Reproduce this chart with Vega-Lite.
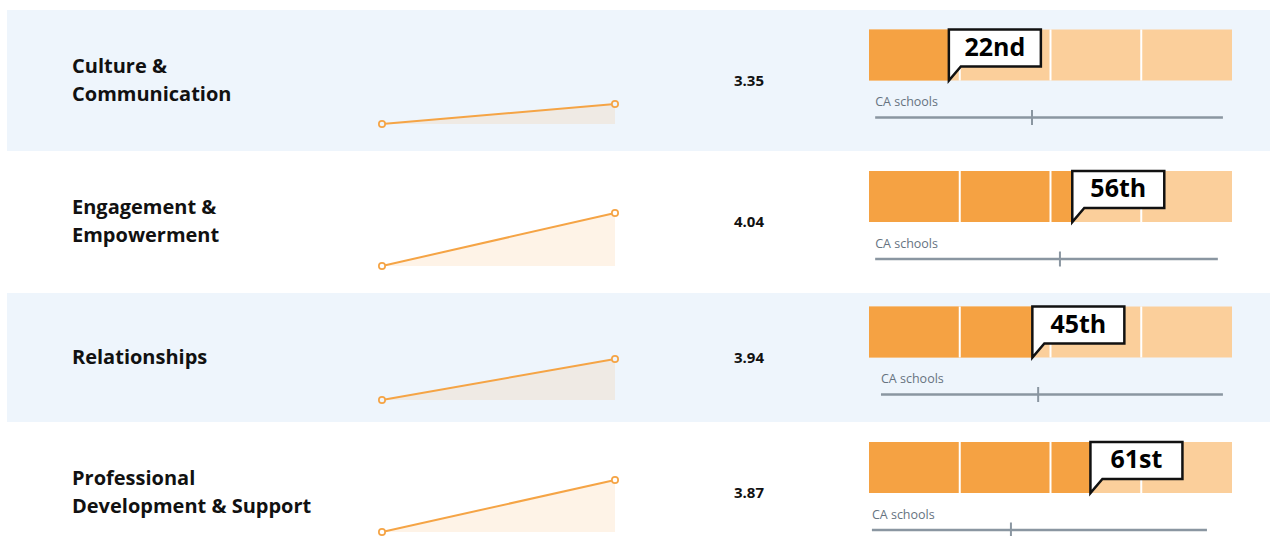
{
  "$schema": "https://vega.github.io/schema/vega-lite/v6.json",
  "padding": {"left": 7, "top": 10, "right": 0, "bottom": 0},
  "background": "#FFFFFF",
  "spacing": 0,
  "config": {"view": {"stroke": null}, "font": "Open Sans"},
  "datasets": {
    "metrics": [
      {"metric": "Culture & Communication", "label": "Culture &\nCommunication", "score": 3.35, "pct": 22, "rank": "22nd", "ca_lo": 1.7, "ca_med": 44.9, "ca_hi": 97.5},
      {"metric": "Engagement & Empowerment", "label": "Engagement &\nEmpowerment", "score": 4.04, "pct": 56, "rank": "56th", "ca_lo": 1.7, "ca_med": 52.6, "ca_hi": 96.1},
      {"metric": "Relationships", "label": "Relationships", "score": 3.94, "pct": 45, "rank": "45th", "ca_lo": 3.3, "ca_med": 46.6, "ca_hi": 97.5},
      {"metric": "Professional Development & Support", "label": "Professional\nDevelopment & Support", "score": 3.87, "pct": 61, "rank": "61st", "ca_lo": 0.8, "ca_med": 39.1, "ca_hi": 93.1}
    ],
    "trend": [
      {"metric": "Culture & Communication", "period": 1, "score": 3.15},
      {"metric": "Culture & Communication", "period": 2, "score": 3.35},
      {"metric": "Engagement & Empowerment", "period": 1, "score": 3.51},
      {"metric": "Engagement & Empowerment", "period": 2, "score": 4.04},
      {"metric": "Relationships", "period": 1, "score": 3.53},
      {"metric": "Relationships", "period": 2, "score": 3.94},
      {"metric": "Professional Development & Support", "period": 1, "score": 3.35},
      {"metric": "Professional Development & Support", "period": 2, "score": 3.87}
    ],
    "quartiles": [
      {"q_start": 0, "q_end": 25},
      {"q_start": 25, "q_end": 50},
      {"q_start": 50, "q_end": 75},
      {"q_start": 75, "q_end": 100}
    ]
  },
  "vconcat": [
    {
      "data": {"name": "metrics"},
      "transform": [{"filter": "datum.metric === 'Culture & Communication'"}],
      "spacing": 0,
      "bounds": "flush",
      "hconcat": [
        {"width": 65, "height": 141, "view": {"fill": "#EEF5FC"}, "mark": {"type": "text"}, "encoding": {}},
        {"width": 288, "height": 141, "view": {"fill": "#EEF5FC"},
         "mark": {"type": "text", "align": "left", "baseline": "middle", "dy": -14, "font": "Open Sans", "fontWeight": "bold", "fontSize": 20, "lineHeight": 28, "lineBreak": "\n", "color": "#111111"},
         "encoding": {"x": {"field": "metric", "type": "nominal", "scale": {"type": "point", "padding": 0, "align": 0}, "axis": null}, "text": {"field": "label"}}},
        {"width": 277, "height": 141, "view": {"fill": "#EEF5FC"},
         "data": {"name": "trend"},
         "transform": [{"filter": "datum.metric === 'Culture & Communication'"}, {"joinaggregate": [{"op": "min", "field": "score", "as": "base"}]}],
         "encoding": {
           "x": {"field": "period", "type": "quantitative", "scale": {"domain": [1, 2], "padding": 22, "nice": false, "zero": false}, "axis": null},
           "y": {"field": "score", "type": "quantitative", "scale": {"domain": [2.88, 4.29], "nice": false, "zero": false}, "axis": null}
         },
         "layer": [
           {"mark": {"type": "area", "color": "#F5A243", "opacity": 0.13}, "encoding": {"y2": {"field": "base"}}},
           {"mark": {"type": "line", "color": "#F5A445", "strokeWidth": 2}, "encoding": {}},
           {"mark": {"type": "point", "filled": true, "fill": "#EEF5FC", "stroke": "#F5A445", "strokeWidth": 1.7, "size": 40, "opacity": 1}, "encoding": {}}
         ]},
        {"width": 224, "height": 141, "view": {"fill": "#EEF5FC"},
         "mark": {"type": "text", "font": "Open Sans", "fontWeight": "bold", "fontSize": 15, "color": "#111111", "baseline": "middle"},
         "encoding": {"text": {"field": "score", "type": "quantitative", "format": ".2f"}}},
        {"width": 379, "height": 141, "view": {"fill": "#EEF5FC"},
         "layer": [
           {"data": {"name": "quartiles"}, "mark": {"type": "bar", "color": "#FBCF9B", "size": 51, "yOffset": -25.5},
            "encoding": {"x": {"field": "q_start", "type": "quantitative", "scale": {"domain": [0, 100], "padding": 8, "nice": false, "zero": false}, "axis": null}, "x2": {"field": "q_end"}}},
           {"mark": {"type": "bar", "color": "#F5A243", "size": 51, "yOffset": -25.5},
            "encoding": {"x": {"field": "pct", "type": "quantitative", "scale": {"domain": [0, 100], "padding": 8, "nice": false, "zero": false}, "axis": null}}},
           {"data": {"name": "quartiles"}, "transform": [{"filter": "datum.q_start > 0"}],
            "mark": {"type": "tick", "color": "#FFFFFF", "thickness": 2, "size": 51, "yOffset": -25.5, "opacity": 1},
            "encoding": {"x": {"field": "q_start", "type": "quantitative", "scale": {"domain": [0, 100], "padding": 8, "nice": false, "zero": false}, "axis": null}}},
           {"mark": {"type": "point", "shape": "M0,0L0,-5.1L9.2,-5.1L9.2,-1.4L1.2,-1.4Z", "size": 400, "filled": true, "fill": "#FFFFFF", "stroke": "#111111", "strokeWidth": 2.5, "opacity": 1},
            "encoding": {"x": {"field": "pct", "type": "quantitative", "scale": {"domain": [0, 100], "padding": 8, "nice": false, "zero": false}, "axis": null}}},
           {"mark": {"type": "text", "dx": 46, "dy": -33, "align": "center", "baseline": "middle", "font": "Open Sans", "fontWeight": "bold", "fontSize": 25, "color": "#000000"},
            "encoding": {"x": {"field": "pct", "type": "quantitative", "scale": {"domain": [0, 100], "padding": 8, "nice": false, "zero": false}, "axis": null}, "text": {"field": "rank"}}},
           {"mark": {"type": "rule", "color": "#8A96A1", "strokeWidth": 2.5, "yOffset": 37},
            "encoding": {"x": {"field": "ca_lo", "type": "quantitative", "scale": {"domain": [0, 100], "padding": 8, "nice": false, "zero": false}, "axis": null}, "x2": {"field": "ca_hi"}}},
           {"mark": {"type": "tick", "color": "#8A96A1", "thickness": 2, "size": 15, "yOffset": 37, "opacity": 1},
            "encoding": {"x": {"field": "ca_med", "type": "quantitative", "scale": {"domain": [0, 100], "padding": 8, "nice": false, "zero": false}, "axis": null}}},
           {"mark": {"type": "text", "align": "left", "baseline": "alphabetic", "dy": 25.5, "font": "Open Sans", "fontSize": 12.5, "color": "#66737F"},
            "encoding": {"x": {"field": "ca_lo", "type": "quantitative", "scale": {"domain": [0, 100], "padding": 8, "nice": false, "zero": false}, "axis": null}, "text": {"value": "CA schools"}}}
         ]},
        {"width": 30, "height": 141, "view": {"fill": "#EEF5FC"}, "mark": {"type": "text"}, "encoding": {}}
      ]
    },
    {
      "data": {"name": "metrics"},
      "transform": [{"filter": "datum.metric === 'Engagement & Empowerment'"}],
      "spacing": 0,
      "bounds": "flush",
      "hconcat": [
        {"width": 65, "height": 142, "mark": {"type": "text"}, "encoding": {}},
        {"width": 288, "height": 142,
         "mark": {"type": "text", "align": "left", "baseline": "middle", "dy": -14, "font": "Open Sans", "fontWeight": "bold", "fontSize": 20, "lineHeight": 28, "lineBreak": "\n", "color": "#111111"},
         "encoding": {"x": {"field": "metric", "type": "nominal", "scale": {"type": "point", "padding": 0, "align": 0}, "axis": null}, "text": {"field": "label"}}},
        {"width": 277, "height": 142,
         "data": {"name": "trend"},
         "transform": [{"filter": "datum.metric === 'Engagement & Empowerment'"}, {"joinaggregate": [{"op": "min", "field": "score", "as": "base"}]}],
         "encoding": {
           "x": {"field": "period", "type": "quantitative", "scale": {"domain": [1, 2], "padding": 22, "nice": false, "zero": false}, "axis": null},
           "y": {"field": "score", "type": "quantitative", "scale": {"domain": [3.24, 4.66], "nice": false, "zero": false}, "axis": null}
         },
         "layer": [
           {"mark": {"type": "area", "color": "#F5A243", "opacity": 0.13}, "encoding": {"y2": {"field": "base"}}},
           {"mark": {"type": "line", "color": "#F5A445", "strokeWidth": 2}, "encoding": {}},
           {"mark": {"type": "point", "filled": true, "fill": "#FFFFFF", "stroke": "#F5A445", "strokeWidth": 1.7, "size": 40, "opacity": 1}, "encoding": {}}
         ]},
        {"width": 224, "height": 142,
         "mark": {"type": "text", "font": "Open Sans", "fontWeight": "bold", "fontSize": 15, "color": "#111111", "baseline": "middle"},
         "encoding": {"text": {"field": "score", "type": "quantitative", "format": ".2f"}}},
        {"width": 379, "height": 142,
         "layer": [
           {"data": {"name": "quartiles"}, "mark": {"type": "bar", "color": "#FBCF9B", "size": 51, "yOffset": -25.5},
            "encoding": {"x": {"field": "q_start", "type": "quantitative", "scale": {"domain": [0, 100], "padding": 8, "nice": false, "zero": false}, "axis": null}, "x2": {"field": "q_end"}}},
           {"mark": {"type": "bar", "color": "#F5A243", "size": 51, "yOffset": -25.5},
            "encoding": {"x": {"field": "pct", "type": "quantitative", "scale": {"domain": [0, 100], "padding": 8, "nice": false, "zero": false}, "axis": null}}},
           {"data": {"name": "quartiles"}, "transform": [{"filter": "datum.q_start > 0"}],
            "mark": {"type": "tick", "color": "#FFFFFF", "thickness": 2, "size": 51, "yOffset": -25.5, "opacity": 1},
            "encoding": {"x": {"field": "q_start", "type": "quantitative", "scale": {"domain": [0, 100], "padding": 8, "nice": false, "zero": false}, "axis": null}}},
           {"mark": {"type": "point", "shape": "M0,0L0,-5.1L9.2,-5.1L9.2,-1.4L1.2,-1.4Z", "size": 400, "filled": true, "fill": "#FFFFFF", "stroke": "#111111", "strokeWidth": 2.5, "opacity": 1},
            "encoding": {"x": {"field": "pct", "type": "quantitative", "scale": {"domain": [0, 100], "padding": 8, "nice": false, "zero": false}, "axis": null}}},
           {"mark": {"type": "text", "dx": 46, "dy": -33, "align": "center", "baseline": "middle", "font": "Open Sans", "fontWeight": "bold", "fontSize": 25, "color": "#000000"},
            "encoding": {"x": {"field": "pct", "type": "quantitative", "scale": {"domain": [0, 100], "padding": 8, "nice": false, "zero": false}, "axis": null}, "text": {"field": "rank"}}},
           {"mark": {"type": "rule", "color": "#8A96A1", "strokeWidth": 2.5, "yOffset": 37},
            "encoding": {"x": {"field": "ca_lo", "type": "quantitative", "scale": {"domain": [0, 100], "padding": 8, "nice": false, "zero": false}, "axis": null}, "x2": {"field": "ca_hi"}}},
           {"mark": {"type": "tick", "color": "#8A96A1", "thickness": 2, "size": 15, "yOffset": 37, "opacity": 1},
            "encoding": {"x": {"field": "ca_med", "type": "quantitative", "scale": {"domain": [0, 100], "padding": 8, "nice": false, "zero": false}, "axis": null}}},
           {"mark": {"type": "text", "align": "left", "baseline": "alphabetic", "dy": 25.5, "font": "Open Sans", "fontSize": 12.5, "color": "#66737F"},
            "encoding": {"x": {"field": "ca_lo", "type": "quantitative", "scale": {"domain": [0, 100], "padding": 8, "nice": false, "zero": false}, "axis": null}, "text": {"value": "CA schools"}}}
         ]},
        {"width": 30, "height": 142, "mark": {"type": "text"}, "encoding": {}}
      ]
    },
    {
      "data": {"name": "metrics"},
      "transform": [{"filter": "datum.metric === 'Relationships'"}],
      "spacing": 0,
      "bounds": "flush",
      "hconcat": [
        {"width": 65, "height": 129, "view": {"fill": "#EEF5FC"}, "mark": {"type": "text"}, "encoding": {}},
        {"width": 288, "height": 129, "view": {"fill": "#EEF5FC"},
         "mark": {"type": "text", "align": "left", "baseline": "middle", "font": "Open Sans", "fontWeight": "bold", "fontSize": 20, "lineHeight": 28, "lineBreak": "\n", "color": "#111111"},
         "encoding": {"x": {"field": "metric", "type": "nominal", "scale": {"type": "point", "padding": 0, "align": 0}, "axis": null}, "text": {"field": "label"}}},
        {"width": 277, "height": 129, "view": {"fill": "#EEF5FC"},
         "data": {"name": "trend"},
         "transform": [{"filter": "datum.metric === 'Relationships'"}, {"joinaggregate": [{"op": "min", "field": "score", "as": "base"}]}],
         "encoding": {
           "x": {"field": "period", "type": "quantitative", "scale": {"domain": [1, 2], "padding": 22, "nice": false, "zero": false}, "axis": null},
           "y": {"field": "score", "type": "quantitative", "scale": {"domain": [3.31, 4.6], "nice": false, "zero": false}, "axis": null}
         },
         "layer": [
           {"mark": {"type": "area", "color": "#F5A243", "opacity": 0.13}, "encoding": {"y2": {"field": "base"}}},
           {"mark": {"type": "line", "color": "#F5A445", "strokeWidth": 2}, "encoding": {}},
           {"mark": {"type": "point", "filled": true, "fill": "#EEF5FC", "stroke": "#F5A445", "strokeWidth": 1.7, "size": 40, "opacity": 1}, "encoding": {}}
         ]},
        {"width": 224, "height": 129, "view": {"fill": "#EEF5FC"},
         "mark": {"type": "text", "font": "Open Sans", "fontWeight": "bold", "fontSize": 15, "color": "#111111", "baseline": "middle"},
         "encoding": {"text": {"field": "score", "type": "quantitative", "format": ".2f"}}},
        {"width": 379, "height": 129, "view": {"fill": "#EEF5FC"},
         "layer": [
           {"data": {"name": "quartiles"}, "mark": {"type": "bar", "color": "#FBCF9B", "size": 51, "yOffset": -25.5},
            "encoding": {"x": {"field": "q_start", "type": "quantitative", "scale": {"domain": [0, 100], "padding": 8, "nice": false, "zero": false}, "axis": null}, "x2": {"field": "q_end"}}},
           {"mark": {"type": "bar", "color": "#F5A243", "size": 51, "yOffset": -25.5},
            "encoding": {"x": {"field": "pct", "type": "quantitative", "scale": {"domain": [0, 100], "padding": 8, "nice": false, "zero": false}, "axis": null}}},
           {"data": {"name": "quartiles"}, "transform": [{"filter": "datum.q_start > 0"}],
            "mark": {"type": "tick", "color": "#FFFFFF", "thickness": 2, "size": 51, "yOffset": -25.5, "opacity": 1},
            "encoding": {"x": {"field": "q_start", "type": "quantitative", "scale": {"domain": [0, 100], "padding": 8, "nice": false, "zero": false}, "axis": null}}},
           {"mark": {"type": "point", "shape": "M0,0L0,-5.1L9.2,-5.1L9.2,-1.4L1.2,-1.4Z", "size": 400, "filled": true, "fill": "#FFFFFF", "stroke": "#111111", "strokeWidth": 2.5, "opacity": 1},
            "encoding": {"x": {"field": "pct", "type": "quantitative", "scale": {"domain": [0, 100], "padding": 8, "nice": false, "zero": false}, "axis": null}}},
           {"mark": {"type": "text", "dx": 46, "dy": -33, "align": "center", "baseline": "middle", "font": "Open Sans", "fontWeight": "bold", "fontSize": 25, "color": "#000000"},
            "encoding": {"x": {"field": "pct", "type": "quantitative", "scale": {"domain": [0, 100], "padding": 8, "nice": false, "zero": false}, "axis": null}, "text": {"field": "rank"}}},
           {"mark": {"type": "rule", "color": "#8A96A1", "strokeWidth": 2.5, "yOffset": 37},
            "encoding": {"x": {"field": "ca_lo", "type": "quantitative", "scale": {"domain": [0, 100], "padding": 8, "nice": false, "zero": false}, "axis": null}, "x2": {"field": "ca_hi"}}},
           {"mark": {"type": "tick", "color": "#8A96A1", "thickness": 2, "size": 15, "yOffset": 37, "opacity": 1},
            "encoding": {"x": {"field": "ca_med", "type": "quantitative", "scale": {"domain": [0, 100], "padding": 8, "nice": false, "zero": false}, "axis": null}}},
           {"mark": {"type": "text", "align": "left", "baseline": "alphabetic", "dy": 25.5, "font": "Open Sans", "fontSize": 12.5, "color": "#66737F"},
            "encoding": {"x": {"field": "ca_lo", "type": "quantitative", "scale": {"domain": [0, 100], "padding": 8, "nice": false, "zero": false}, "axis": null}, "text": {"value": "CA schools"}}}
         ]},
        {"width": 30, "height": 129, "view": {"fill": "#EEF5FC"}, "mark": {"type": "text"}, "encoding": {}}
      ]
    },
    {
      "data": {"name": "metrics"},
      "transform": [{"filter": "datum.metric === 'Professional Development & Support'"}],
      "spacing": 0,
      "bounds": "flush",
      "hconcat": [
        {"width": 65, "height": 142, "mark": {"type": "text"}, "encoding": {}},
        {"width": 288, "height": 142,
         "mark": {"type": "text", "align": "left", "baseline": "middle", "dy": -14, "font": "Open Sans", "fontWeight": "bold", "fontSize": 20, "lineHeight": 28, "lineBreak": "\n", "color": "#111111"},
         "encoding": {"x": {"field": "metric", "type": "nominal", "scale": {"type": "point", "padding": 0, "align": 0}, "axis": null}, "text": {"field": "label"}}},
        {"width": 277, "height": 142,
         "data": {"name": "trend"},
         "transform": [{"filter": "datum.metric === 'Professional Development & Support'"}, {"joinaggregate": [{"op": "min", "field": "score", "as": "base"}]}],
         "encoding": {
           "x": {"field": "period", "type": "quantitative", "scale": {"domain": [1, 2], "padding": 22, "nice": false, "zero": false}, "axis": null},
           "y": {"field": "score", "type": "quantitative", "scale": {"domain": [3.03, 4.45], "nice": false, "zero": false}, "axis": null}
         },
         "layer": [
           {"mark": {"type": "area", "color": "#F5A243", "opacity": 0.13}, "encoding": {"y2": {"field": "base"}}},
           {"mark": {"type": "line", "color": "#F5A445", "strokeWidth": 2}, "encoding": {}},
           {"mark": {"type": "point", "filled": true, "fill": "#FFFFFF", "stroke": "#F5A445", "strokeWidth": 1.7, "size": 40, "opacity": 1}, "encoding": {}}
         ]},
        {"width": 224, "height": 142,
         "mark": {"type": "text", "font": "Open Sans", "fontWeight": "bold", "fontSize": 15, "color": "#111111", "baseline": "middle"},
         "encoding": {"text": {"field": "score", "type": "quantitative", "format": ".2f"}}},
        {"width": 379, "height": 142,
         "layer": [
           {"data": {"name": "quartiles"}, "mark": {"type": "bar", "color": "#FBCF9B", "size": 51, "yOffset": -25.5},
            "encoding": {"x": {"field": "q_start", "type": "quantitative", "scale": {"domain": [0, 100], "padding": 8, "nice": false, "zero": false}, "axis": null}, "x2": {"field": "q_end"}}},
           {"mark": {"type": "bar", "color": "#F5A243", "size": 51, "yOffset": -25.5},
            "encoding": {"x": {"field": "pct", "type": "quantitative", "scale": {"domain": [0, 100], "padding": 8, "nice": false, "zero": false}, "axis": null}}},
           {"data": {"name": "quartiles"}, "transform": [{"filter": "datum.q_start > 0"}],
            "mark": {"type": "tick", "color": "#FFFFFF", "thickness": 2, "size": 51, "yOffset": -25.5, "opacity": 1},
            "encoding": {"x": {"field": "q_start", "type": "quantitative", "scale": {"domain": [0, 100], "padding": 8, "nice": false, "zero": false}, "axis": null}}},
           {"mark": {"type": "point", "shape": "M0,0L0,-5.1L9.2,-5.1L9.2,-1.4L1.2,-1.4Z", "size": 400, "filled": true, "fill": "#FFFFFF", "stroke": "#111111", "strokeWidth": 2.5, "opacity": 1},
            "encoding": {"x": {"field": "pct", "type": "quantitative", "scale": {"domain": [0, 100], "padding": 8, "nice": false, "zero": false}, "axis": null}}},
           {"mark": {"type": "text", "dx": 46, "dy": -33, "align": "center", "baseline": "middle", "font": "Open Sans", "fontWeight": "bold", "fontSize": 25, "color": "#000000"},
            "encoding": {"x": {"field": "pct", "type": "quantitative", "scale": {"domain": [0, 100], "padding": 8, "nice": false, "zero": false}, "axis": null}, "text": {"field": "rank"}}},
           {"mark": {"type": "rule", "color": "#8A96A1", "strokeWidth": 2.5, "yOffset": 37},
            "encoding": {"x": {"field": "ca_lo", "type": "quantitative", "scale": {"domain": [0, 100], "padding": 8, "nice": false, "zero": false}, "axis": null}, "x2": {"field": "ca_hi"}}},
           {"mark": {"type": "tick", "color": "#8A96A1", "thickness": 2, "size": 15, "yOffset": 37, "opacity": 1},
            "encoding": {"x": {"field": "ca_med", "type": "quantitative", "scale": {"domain": [0, 100], "padding": 8, "nice": false, "zero": false}, "axis": null}}},
           {"mark": {"type": "text", "align": "left", "baseline": "alphabetic", "dy": 25.5, "font": "Open Sans", "fontSize": 12.5, "color": "#66737F"},
            "encoding": {"x": {"field": "ca_lo", "type": "quantitative", "scale": {"domain": [0, 100], "padding": 8, "nice": false, "zero": false}, "axis": null}, "text": {"value": "CA schools"}}}
         ]},
        {"width": 30, "height": 142, "mark": {"type": "text"}, "encoding": {}}
      ]
    }
  ]
}
